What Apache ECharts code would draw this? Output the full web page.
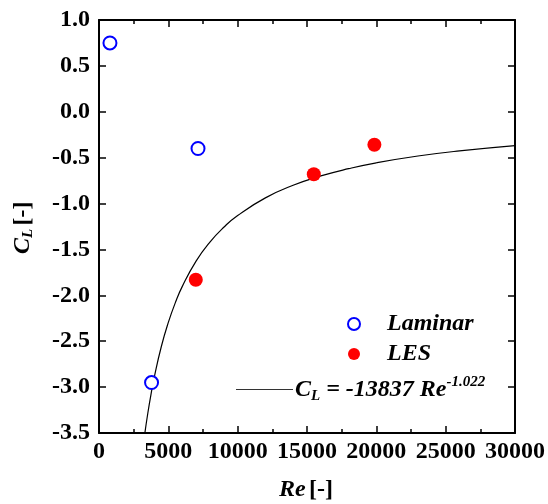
<!DOCTYPE html>
<html><head><meta charset="utf-8">
<script src="https://cdn.jsdelivr.net/npm/echarts@6/dist/echarts.min.js"></script>
<style>html,body{margin:0;padding:0;background:#fff}#c{width:548px;height:504px}</style>
</head><body><div id="c"></div>
<script>
// Data
var laminarRe = [790, 3790, 7140];
var laminarCL = [0.75, -2.95, -0.40];
var lesRe = [6980, 15490, 19860];
var lesCL = [-1.83, -0.68, -0.36];
// Fit curve C_L = -13837 Re^-1.022
var fitRe = [3300, 3500, 3750, 4000, 4500, 5000, 5500, 6000, 7000, 8000, 9000, 10000, 12000, 14000, 16000, 18000, 20000, 23000, 26000, 30000];
var fitCL = [-3.509, -3.304, -3.079, -2.882, -2.555, -2.295, -2.082, -1.905, -1.627, -1.419, -1.258, -1.130, -0.938, -0.801, -0.699, -0.620, -0.556, -0.482, -0.426, -0.368];
var xTicks = ['0', '5000', '10000', '15000', '20000', '25000', '30000'];
var yTicks = ['-3.5','-3.0','-2.5','-2.0','-1.5','-1.0','-0.5','0.0','0.5','1.0'];

function zip(a, b) { return a.map(function (v, i) { return [v, b[i]]; }); }

var font = 'Liberation Serif';
var chart = echarts.init(document.getElementById('c'), null, {renderer: 'canvas'});
var axisLine = {show: true, onZero: false, lineStyle: {color: '#000', width: 2}};
var tick = {show: true, inside: true, length: 7, lineStyle: {color: '#000', width: 1.5}};
var minor = {show: true, splitNumber: 2, length: 4, lineStyle: {color: '#000', width: 1.5}};
chart.setOption({
  animation: false,
  backgroundColor: '#fff',
  grid: {left: 99, right: 32, top: 20, bottom: 71, containLabel: false},
  xAxis: [{
    type: 'value', position: 'bottom', min: 0, max: 30000, interval: 5000,
    axisLine: axisLine, axisTick: tick, minorTick: minor,
    splitLine: {show: false},
    axisLabel: {color: '#000', fontFamily: font, fontWeight: 'bold', fontSize: 24, margin: 7,
      formatter: function (v) { return xTicks[Math.round(v / 5000)]; }}
  }, {
    type: 'value', position: 'top', min: 0, max: 30000, interval: 5000,
    axisLine: axisLine, axisTick: tick, minorTick: minor,
    splitLine: {show: false}, axisLabel: {show: false}
  }],
  yAxis: [{
    type: 'value', position: 'left', min: -3.5, max: 1.0, interval: 0.5,
    axisLine: axisLine, axisTick: tick,
    splitLine: {show: false},
    axisLabel: {color: '#000', fontFamily: font, fontWeight: 'bold', fontSize: 24, margin: 9,
      formatter: function (v) { return yTicks[Math.round((v + 3.5) / 0.5)]; }}
  }, {
    type: 'value', position: 'right', min: -3.5, max: 1.0, interval: 0.5,
    axisLine: axisLine, axisTick: tick,
    splitLine: {show: false}, axisLabel: {show: false}
  }],
  legend: [{
    orient: 'vertical', left: 342, top: 307, itemGap: 6, itemWidth: 12, itemHeight: 12,
    data: [
      {name: 'Laminar', icon: 'circle', itemStyle: {color: '#fff', borderColor: '#0000ff', borderWidth: 2, opacity: 1}},
      {name: 'LES', icon: 'circle', itemStyle: {color: '#ff0000', borderWidth: 0, opacity: 1}}
    ],
    textStyle: {fontFamily: font, fontWeight: 'bold', fontStyle: 'italic', fontSize: 24, color: '#000', padding: [0, 0, 0, 22]}
  }, {
    orient: 'vertical', left: 231, top: 370, itemWidth: 57, itemHeight: 14,
    data: [{name: 'fit', icon: 'path://M0,0 L57,0 L57,1 L0,1 Z', itemStyle: {color: '#333'}}],
    formatter: function () { return '{i|C}{sub|L}{i| = -13837 Re}{sup|-1.022}'; },
    textStyle: {
      color: '#000', padding: [0, 0, 0, -3],
      rich: {
        i: {fontFamily: font, fontWeight: 'bold', fontStyle: 'italic', fontSize: 24, color: '#000'},
        sub: {fontFamily: font, fontWeight: 'bold', fontStyle: 'italic', fontSize: 15, color: '#000', padding: [14, 0, 0, 0]},
        sup: {fontFamily: font, fontWeight: 'bold', fontStyle: 'italic', fontSize: 15, color: '#000', padding: [0, 0, 14, 0]}
      }
    }
  }],
  series: [{
    name: 'fit', type: 'line', data: zip(fitRe, fitCL), smooth: true, showSymbol: false, symbol: 'none',
    clip: true, lineStyle: {color: '#000', width: 1.2}, z: 1
  }, {
    name: 'Laminar', type: 'scatter', data: zip(laminarRe, laminarCL), symbol: 'circle', symbolSize: 13,
    itemStyle: {color: '#fff', borderColor: '#0000ff', borderWidth: 2, opacity: 1}, z: 3
  }, {
    name: 'LES', type: 'scatter', data: zip(lesRe, lesCL), symbol: 'circle', symbolSize: 14,
    itemStyle: {color: '#ff0000', opacity: 1}, z: 3
  }],
  graphic: [{
    type: 'text', x: 279, y: 478,
    style: {text: '{i|Re} {b|[-]}', rich: {
      i: {fontFamily: font, fontWeight: 'bold', fontStyle: 'italic', fontSize: 24, fill: '#000'},
      b: {fontFamily: font, fontWeight: 'bold', fontSize: 24, fill: '#000'}
    }}
  }, {
    type: 'text', x: 9, y: 254, rotation: Math.PI / 2,
    style: {text: '{i|C}{sub|L} {b|[-]}', rich: {
      i: {fontFamily: font, fontWeight: 'bold', fontStyle: 'italic', fontSize: 24, fill: '#000'},
      sub: {fontFamily: font, fontWeight: 'bold', fontStyle: 'italic', fontSize: 15, fill: '#000', padding: [12, 0, 0, 0]},
      b: {fontFamily: font, fontWeight: 'bold', fontSize: 24, fill: '#000'}
    }}
  }]
});
</script></body></html>
